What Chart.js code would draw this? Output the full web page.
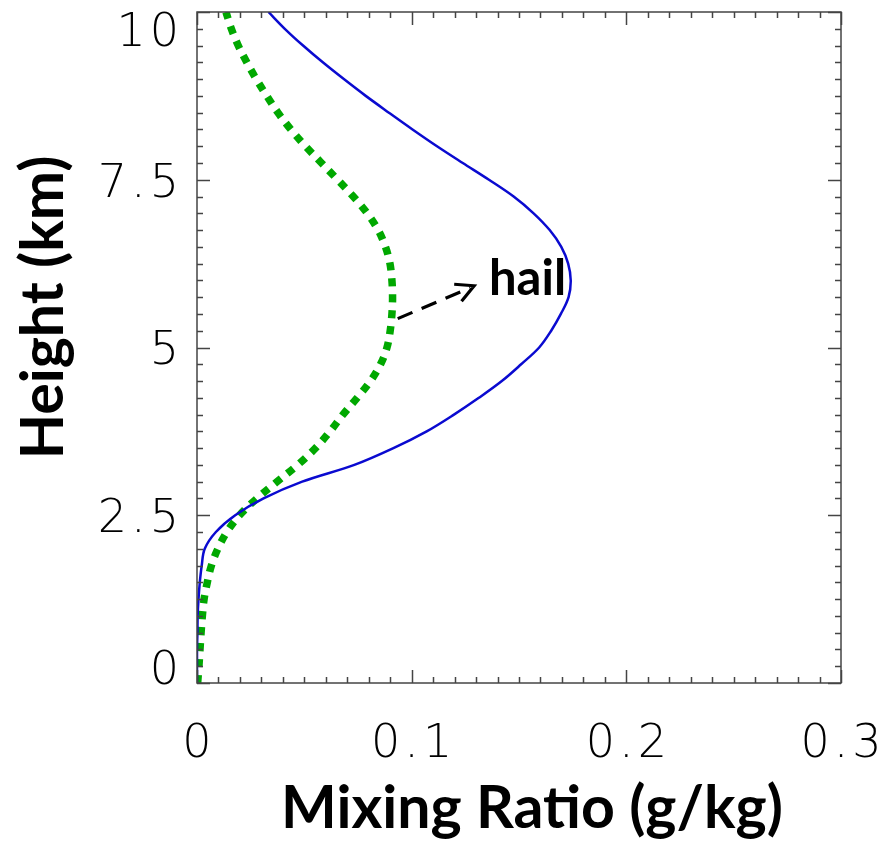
<!DOCTYPE html>
<html>
<head>
<meta charset="utf-8">
<title>Mixing ratio profiles</title>
<script src="https://cdn.jsdelivr.net/npm/chart.js@4/dist/chart.umd.min.js"></script>
<style>
  html, body { margin: 0; padding: 0; background: #ffffff; }
  #wrap { width: 891px; height: 841px; }
</style>
</head>
<body>
<div id="wrap"><canvas id="chart" width="891" height="841"></canvas></div>
<script>
// Heights (km) at which both profiles are sampled
const heights = [
  0, 0.25, 0.5, 0.75, 1.0, 1.25, 1.5, 1.75, 2.0, 2.25,
  2.5, 2.75, 3.0, 3.25, 3.5, 3.75, 4.0, 4.25, 4.5, 4.75,
  5.0, 5.25, 5.5, 5.75, 6.0, 6.25, 6.5, 6.75, 7.0, 7.25,
  7.5, 7.75, 8.0, 8.25, 8.5, 8.75, 9.0, 9.25, 9.5, 9.75, 10.0
];

// Solid blue profile (g/kg)
const profileMix = [
  0.0, 0.0, 0.0, 0.0002, 0.0003, 0.0007, 0.0013, 0.0022, 0.0036, 0.0088,
  0.0178, 0.031, 0.049, 0.0733, 0.0915, 0.107, 0.1197, 0.1313, 0.142, 0.151,
  0.1594, 0.165, 0.1695, 0.1731, 0.1741, 0.1729, 0.1697, 0.1643, 0.1568, 0.1475,
  0.136, 0.1238, 0.1118, 0.1004, 0.0894, 0.0786, 0.0684, 0.0586, 0.0494, 0.0409, 0.0333
];

// Dotted green hail profile (g/kg)
const hailMix = [
  0.0003, 0.0009, 0.0014, 0.0019, 0.0025, 0.0033, 0.0048, 0.0067, 0.0097, 0.0139,
  0.0198, 0.0279, 0.0373, 0.0469, 0.0552, 0.062, 0.068, 0.0746, 0.0808, 0.0855,
  0.0885, 0.0900, 0.0908, 0.0911, 0.0908, 0.0899, 0.0878, 0.0844, 0.0793, 0.0728,
  0.0655, 0.058, 0.0505, 0.0437, 0.0377, 0.0325, 0.0276, 0.0232, 0.0192, 0.016, 0.0135
];

// Axis ticks and labels
const xMajorTicks = [0, 0.1, 0.2, 0.3];
const xTickLabels = ['0', '0.1', '0.2', '0.3'];
const yMajorTicks = [0, 2.5, 5, 7.5, 10];
const yTickLabels = ['0', '2.5', '5', '7.5', '10'];
const xMinorStep = 0.01;
const yMinorStep = 0.25;

const xTitle = 'Mixing Ratio (g/kg)';
const yTitle = 'Height (km)';

// Annotation: dashed arrow from the hail curve to its label (data coordinates)
const hailArrowFrom = [0.0935, 5.43];
const hailArrowTo = [0.1291, 5.92];
const hailLabelText = 'hail';
const hailLabelAt = [0.136, 5.78];

const toPoints = (vals) => vals.map((v, i) => ({ x: v, y: heights[i] }));

// Frame, inward ticks, tick labels, titles and the arrow annotation
const framePlugin = {
  id: 'frameAndLabels',
  afterDatasetsDraw(chart) {
    const { ctx, chartArea: a, scales } = chart;
    const xs = scales.x, ys = scales.y;
    ctx.save();

    // frame
    ctx.strokeStyle = '#444444';
    ctx.lineWidth = 1.5;
    ctx.strokeRect(a.left, a.top, a.right - a.left, a.bottom - a.top);

    // ticks on all four sides, pointing inward
    ctx.beginPath();
    const nx = Math.round((xs.max - xs.min) / xMinorStep);
    for (let i = 0; i <= nx; i++) {
      const v = xs.min + i * xMinorStep;
      const px = Math.round(xs.getPixelForValue(v)) + 0.5;
      const len = (i % 10 === 0) ? 13 : 6;
      ctx.moveTo(px, a.bottom); ctx.lineTo(px, a.bottom - len);
      ctx.moveTo(px, a.top); ctx.lineTo(px, a.top + len);
    }
    const ny = Math.round((ys.max - ys.min) / yMinorStep);
    for (let i = 0; i <= ny; i++) {
      const v = ys.min + i * yMinorStep;
      const py = Math.round(ys.getPixelForValue(v)) + 0.5;
      const len = (i % 10 === 0) ? 13 : 6;
      ctx.moveTo(a.left, py); ctx.lineTo(a.left + len, py);
      ctx.moveTo(a.right, py); ctx.lineTo(a.right - len, py);
    }
    ctx.stroke();

    // tick labels
    const tickSize = 46;
    const capH = tickSize * 0.729;
    ctx.fillStyle = '#000000';
    ctx.font = '200 ' + tickSize + 'px "DejaVu Sans", sans-serif';
    if ('letterSpacing' in ctx) ctx.letterSpacing = '4px';
    ctx.textBaseline = 'alphabetic';
    ctx.textAlign = 'right';
    yMajorTicks.forEach((v, i) => {
      const py = ys.getPixelForValue(v);
      let base = py + capH / 2;
      base = Math.max(base, a.top + capH);
      base = Math.min(base, a.bottom + 1);
      ctx.fillText(yTickLabels[i], a.left - 14, base);
    });
    ctx.textAlign = 'center';
    xMajorTicks.forEach((v, i) => {
      const px = xs.getPixelForValue(v);
      ctx.fillText(xTickLabels[i], px + 2, a.bottom + 74);
    });
    if ('letterSpacing' in ctx) ctx.letterSpacing = '0px';

    // axis titles
    ctx.font = 'bold 59px Lato, "Open Sans", sans-serif';
    ctx.textAlign = 'center';
    ctx.fillText(xTitle, (a.left + a.right) / 2 + 13, a.bottom + 145);
    ctx.save();
    ctx.translate(a.left - 134, (a.top + a.bottom) / 2 - 40);
    ctx.rotate(-Math.PI / 2);
    ctx.fillText(yTitle, 0, 0);
    ctx.restore();

    // dashed arrow
    const x0 = xs.getPixelForValue(hailArrowFrom[0]), y0 = ys.getPixelForValue(hailArrowFrom[1]);
    const x1 = xs.getPixelForValue(hailArrowTo[0]), y1 = ys.getPixelForValue(hailArrowTo[1]);
    ctx.strokeStyle = '#000000';
    ctx.lineWidth = 3.2;
    ctx.setLineDash([16, 10]);
    ctx.beginPath();
    ctx.moveTo(x0, y0); ctx.lineTo(x1 - 4, y1 + 2);
    ctx.stroke();
    ctx.setLineDash([]);
    const ang = Math.atan2(y1 - y0, x1 - x0);
    const headLen = 20, spread = Math.PI / 6.5;
    ctx.beginPath();
    ctx.moveTo(x1 - headLen * Math.cos(ang - spread), y1 - headLen * Math.sin(ang - spread));
    ctx.lineTo(x1, y1);
    ctx.lineTo(x1 - headLen * Math.cos(ang + spread), y1 - headLen * Math.sin(ang + spread));
    ctx.stroke();

    // label
    ctx.font = 'bold 49px Lato, "Open Sans", sans-serif';
    ctx.textAlign = 'left';
    ctx.fillText(hailLabelText, xs.getPixelForValue(hailLabelAt[0]), ys.getPixelForValue(hailLabelAt[1]));

    ctx.restore();
  }
};

new Chart(document.getElementById('chart'), {
  type: 'line',
  data: {
    datasets: [
      {
        label: 'profile',
        data: toPoints(profileMix),
        borderColor: '#0a0ad0',
        borderWidth: 2.5,
        pointRadius: 0,
        tension: 0.35,
        fill: false
      },
      {
        label: 'hail',
        data: toPoints(hailMix),
        borderColor: '#00a800',
        borderWidth: 7.5,
        borderDash: [8, 8],
        borderCapStyle: 'butt',
        pointRadius: 0,
        tension: 0.35,
        fill: false
      }
    ]
  },
  options: {
    responsive: false,
    animation: false,
    devicePixelRatio: 1,
    layout: { padding: { left: 197, top: 12, right: 50, bottom: 158 } },
    plugins: { legend: { display: false }, tooltip: { enabled: false } },
    scales: {
      x: { type: 'linear', min: 0, max: 0.3, display: false },
      y: { type: 'linear', min: 0, max: 10, display: false }
    }
  },
  plugins: [framePlugin]
});
</script>
</body>
</html>
